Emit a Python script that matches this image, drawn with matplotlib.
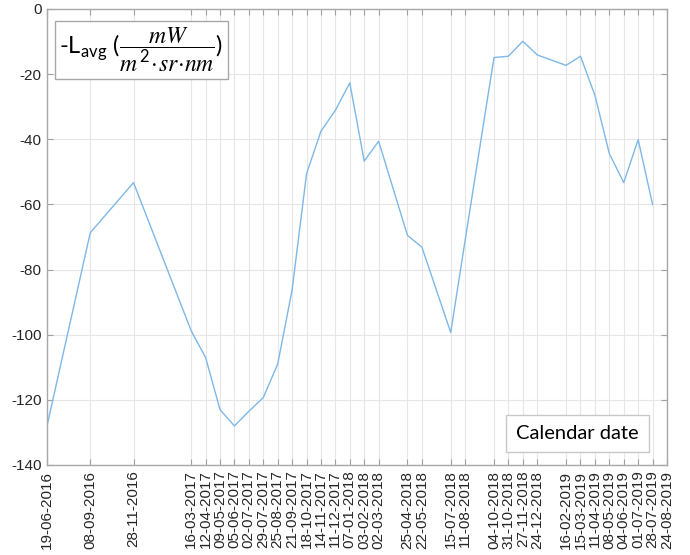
import datetime as dt
import matplotlib
matplotlib.use("Agg")
import matplotlib.pyplot as plt
import matplotlib.dates as mdates

# Measurement dates (dd-mm-yyyy) and the negated average radiance at each date
dates = [
    "19-06-2016", "08-09-2016", "28-11-2016", "16-03-2017", "12-04-2017",
    "09-05-2017", "05-06-2017", "02-07-2017", "29-07-2017", "25-08-2017",
    "21-09-2017", "18-10-2017", "14-11-2017", "11-12-2017", "07-01-2018",
    "03-02-2018", "02-03-2018", "25-04-2018", "22-05-2018", "15-07-2018",
    "11-08-2018", "04-10-2018", "31-10-2018", "27-11-2018", "24-12-2018",
    "16-02-2019", "15-03-2019", "11-04-2019", "08-05-2019", "04-06-2019",
    "01-07-2019", "28-07-2019",
]
neg_l_avg = [
    -128.0, -68.7, -53.3, -98.8, -107.0,
    -123.0, -128.0, -123.5, -119.3, -109.0,
    -86.2, -50.6, -37.5, -31.1, -22.7,
    -46.7, -40.6, -69.5, -73.1, -99.3,
    -71.0, -14.9, -14.5, -9.9, -14.1,
    -17.3, -14.5, -26.5, -44.4, -53.3,
    -40.1, -60.0,
]
# Tick dates: every measurement date plus the closing date of the period
tick_dates = dates + ["24-08-2019"]
y_ticks = [0, -20, -40, -60, -80, -100, -120, -140]

plt.rcParams["font.family"] = ["Liberation Sans", "DejaVu Sans"]
plt.rcParams["mathtext.fontset"] = "custom"
plt.rcParams["mathtext.rm"] = "Lato"
plt.rcParams["mathtext.it"] = "STIXGeneral:italic"
plt.rcParams["mathtext.bf"] = "STIXGeneral:bold"

def parse(s):
    return dt.datetime.strptime(s, "%d-%m-%Y")

x = mdates.date2num([parse(d) for d in dates])
xt = mdates.date2num([parse(d) for d in tick_dates])

fig = plt.figure(figsize=(6.9, 5.55), dpi=100)
ax = fig.add_axes([47 / 690, 1 - 465 / 555, 620 / 690, 456 / 555])

ax.plot(x, neg_l_avg, color="#7db8e8", lw=1.0)

ax.set_xlim(xt[0], xt[-1])
ax.set_ylim(-140, 0)
ax.set_xticks(xt)
ax.set_xticklabels(tick_dates, rotation=90, fontsize=11, color="#262626")
ax.set_yticks(y_ticks)
ax.set_yticklabels([str(v) for v in y_ticks], fontsize=11, color="#262626")

ax.grid(True, color="#e6e6e6", lw=0.8)
ax.set_axisbelow(True)
ax.tick_params(direction="in", length=4, width=0.8, color="#a0a0a0",
               top=True, right=True, pad=4)
for sp in ax.spines.values():
    sp.set_color("#a8a8a8")
    sp.set_linewidth(1.0)

ax.text(0.02, 0.91,
        r"-L$_{\mathrm{avg}}$ ($\dfrac{mW}{m^{\,2}\!\cdot\! sr\!\cdot\! nm}$)",
        transform=ax.transAxes, family="Lato", fontsize=17, color="black",
        ha="left", va="center",
        bbox=dict(boxstyle="square,pad=0.2", fc="white", ec="#a8a8a8", lw=1.0))

ax.text(0.856, 0.069, "Calendar date", transform=ax.transAxes,
        family="Lato", fontsize=14.5, color="black", ha="center", va="center",
        bbox=dict(boxstyle="square,pad=0.5", fc="white", ec="#c8c8c8", lw=1.0))

fig.savefig("out.png", dpi=100)
